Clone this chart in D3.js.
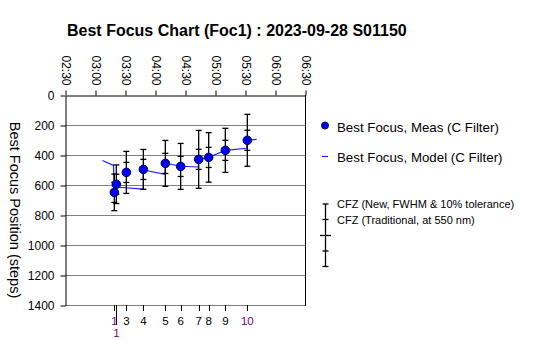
<!DOCTYPE html>
<html>
<head>
<meta charset="utf-8">
<script src="https://cdn.jsdelivr.net/npm/d3@7"></script>
<style>
  html, body { margin: 0; padding: 0; background: #ffffff; }
  svg { display: block; font-family: Arial, "Liberation Sans", sans-serif; }
</style>
</head>
<body>
<svg id="chart" width="535" height="340"></svg>
<script>
// Measured best-focus runs (time of day, run number, focuser steps)
const measTimes  = ["03:19:20", "03:21:20", "03:31:20", "03:48:20", "04:10:20",
                    "04:25:40", "04:43:40", "04:53:40", "05:10:20", "05:32:20"];
const runLabels  = ["1", "1", "3", "4", "5", "6", "7", "8", "9", "10"];
const bestFocus  = [649, 595, 516, 496, 456, 476, 429, 416, 369, 302];
// Half-widths of the critical focus zone, in steps
const cfzNew     = [122, 129, 140, 133, 153, 153, 193, 165, 147, 173];
const cfzTrad    = [67, 67, 67, 67, 67, 67, 67, 67, 67, 67];

// Temperature model of best focus (resets at each measurement)
const modelTimes = ["03:07:20", "03:18:30", "03:19:20", "03:21:20", "03:23:20", "03:48:20",
                    "03:48:20", "04:10:00", "04:10:20", "04:25:40", "04:43:20", "04:43:40",
                    "04:53:40", "05:10:20", "05:31:40", "05:32:20", "05:41:40"];
const modelFocus = [437, 470, 649, 595, 615, 627, 500, 529, 455, 475, 480, 429,
                    415, 369, 355, 302, 295];

// Axis ticks
const timeTicks  = ["02:30", "03:00", "03:30", "04:00", "04:30", "05:00", "05:30", "06:00", "06:30"];
const stepTicks  = [0, 200, 400, 600, 800, 1000, 1200, 1400];

const titleText  = "Best Focus Chart (Foc1) : 2023-09-28 S01150";
const yTitle     = "Best Focus Position (steps)";
const legendMeas = "Best Focus, Meas (C Filter)";
const legendModel = "Best Focus, Model (C Filter)";
const legendCfzNew = "CFZ (New, FWHM & 10% tolerance)";
const legendCfzTrad = "CFZ (Traditional, at 550 nm)";

const day = "2023-09-28 ";
const parseT = d3.timeParse("%Y-%m-%d %H:%M:%S");
const parseHM = d3.timeParse("%Y-%m-%d %H:%M");
const tMeas = measTimes.map(t => parseT(day + t));
const tModel = modelTimes.map(t => parseT(day + t));
const tTicks = timeTicks.map(t => parseHM(day + t));

const plot = { left: 65, right: 305, top: 95, bottom: 305 };

const x = d3.scaleTime()
  .domain([tTicks[0], tTicks[tTicks.length - 1]])
  .range([plot.left, plot.right]);
const y = d3.scaleLinear()
  .domain([0, 1400])
  .range([plot.top, plot.bottom]);

const svg = d3.select("#chart");

// Title
svg.append("text")
  .attr("x", 67).attr("y", 36)
  .attr("font-size", 16).attr("font-weight", "bold")
  .attr("fill", "#000")
  .text(titleText);

// Horizontal gridlines
svg.append("g").selectAll("line")
  .data(stepTicks.filter(v => v > 0 && v < 1400))
  .join("line")
  .attr("x1", plot.left).attr("x2", plot.right)
  .attr("y1", d => y(d) + 0.5).attr("y2", d => y(d) + 0.5)
  .attr("stroke", "#808080").attr("stroke-width", 1);

// Frame: bottom (grey) and right (black)
svg.append("line")
  .attr("x1", plot.left).attr("x2", plot.right)
  .attr("y1", plot.bottom + 0.5).attr("y2", plot.bottom + 0.5)
  .attr("stroke", "#808080");
svg.append("line")
  .attr("x1", plot.right + 0.5).attr("x2", plot.right + 0.5)
  .attr("y1", plot.top).attr("y2", plot.bottom + 1)
  .attr("stroke", "#000");

// Top time axis
const topAxis = svg.append("g")
  .attr("transform", `translate(0.5,${plot.top + 0.5})`)
  .call(d3.axisTop(x).tickValues(tTicks).tickFormat(d3.timeFormat("%H:%M"))
    .tickSize(5).tickSizeOuter(0));
topAxis.select(".domain").attr("stroke", "#000");
topAxis.selectAll(".tick line").attr("stroke", "#000");
topAxis.selectAll(".tick text")
  .attr("font-size", 12).attr("font-family", "Arial, 'Liberation Sans', sans-serif")
  .attr("fill", "#000")
  .attr("text-anchor", "end")
  .attr("transform", "rotate(90)")
  .attr("x", -10).attr("y", 0).attr("dy", "0.35em");

// Left step axis
const leftAxis = svg.append("g")
  .attr("transform", `translate(${plot.left + 0.5},0.5)`)
  .call(d3.axisLeft(y).tickValues(stepTicks).tickFormat(d3.format("d"))
    .tickSize(5).tickPadding(6).tickSizeOuter(0));
leftAxis.select(".domain").attr("stroke", "#000");
leftAxis.selectAll(".tick line").attr("stroke", "#000");
leftAxis.selectAll(".tick text")
  .attr("font-size", 12).attr("font-family", "Arial, 'Liberation Sans', sans-serif")
  .attr("fill", "#000");

// Y axis title
svg.append("text")
  .attr("transform", "translate(15,210) rotate(90)")
  .attr("text-anchor", "middle").attr("dy", "0.35em")
  .attr("font-size", 14.5).attr("fill", "#000")
  .text(yTitle);

// Bottom run-number ticks; runs too close to the previous one drop to a second row
const runRows = tMeas.map((t, i) => (i > 0 && x(t) - x(tMeas[i - 1]) < 6) ? 1 : 0);
const bottom = svg.append("g");
bottom.selectAll("line")
  .data(tMeas)
  .join("line")
  .attr("x1", d => Math.round(x(d)) + 0.5).attr("x2", d => Math.round(x(d)) + 0.5)
  .attr("y1", plot.bottom)
  .attr("y2", (d, i) => plot.bottom + (runRows[i] ? 20 : 6))
  .attr("stroke", "#000");
bottom.selectAll("text")
  .data(tMeas)
  .join("text")
  .attr("x", d => x(d))
  .attr("y", (d, i) => runRows[i] ? 333 : 320.5)
  .attr("dy", "0.35em")
  .attr("text-anchor", "middle")
  .attr("font-size", 11.5)
  .attr("fill", (d, i) => (runLabels[i] === "1" || runLabels[i] === "10") ? "#800080" : "#000")
  .text((d, i) => runLabels[i]);

// Model curve
const modelLine = d3.line()
  .x((d, i) => x(tModel[i]))
  .y(d => y(d));
svg.append("path")
  .datum(modelFocus)
  .attr("d", modelLine)
  .attr("fill", "none")
  .attr("stroke", "#1e1eff")
  .attr("stroke-width", 1.2);

// Error bars (outer: new CFZ, inner ticks: traditional CFZ)
const capHalf = 3;
const bars = svg.append("g").attr("stroke", "#000").attr("stroke-width", 1.3);
bestFocus.forEach((v, i) => {
  const cx = x(tMeas[i]);
  const g = bars.append("g");
  g.append("line")
    .attr("x1", cx).attr("x2", cx)
    .attr("y1", y(v - cfzNew[i])).attr("y2", y(v + cfzNew[i]));
  [v - cfzNew[i], v + cfzNew[i], v - cfzTrad[i], v + cfzTrad[i]].forEach(w => {
    g.append("line")
      .attr("x1", cx - capHalf).attr("x2", cx + capHalf)
      .attr("y1", y(w)).attr("y2", y(w));
  });
});

// Measured points
svg.append("g").selectAll("circle")
  .data(bestFocus)
  .join("circle")
  .attr("cx", (d, i) => x(tMeas[i]))
  .attr("cy", d => y(d))
  .attr("r", 4.3)
  .attr("fill", "#0000f0")
  .attr("stroke", "#00005a")
  .attr("stroke-width", 1);

// Legend
const lg = svg.append("g");
lg.append("circle").attr("cx", 325).attr("cy", 125.5).attr("r", 3.5)
  .attr("fill", "#0000f0").attr("stroke", "#00005a");
lg.append("text").attr("x", 337).attr("y", 127.5).attr("dy", "0.35em")
  .attr("font-size", 13.3).attr("fill", "#000").text(legendMeas);
lg.append("line").attr("x1", 322).attr("x2", 328).attr("y1", 156.5).attr("y2", 156.5)
  .attr("stroke", "#1e1eff").attr("stroke-width", 1.2);
lg.append("text").attr("x", 337).attr("y", 157.5).attr("dy", "0.35em")
  .attr("font-size", 13.3).attr("fill", "#000").text(legendModel);

const lgx = 325.5;
lg.append("line").attr("x1", lgx).attr("x2", lgx).attr("y1", 204).attr("y2", 267)
  .attr("stroke", "#000").attr("stroke-width", 1.3);
[[204, 3], [219.5, 3], [235.5, 5.5], [251, 3], [266.5, 3]].forEach(([ly, h]) => {
  lg.append("line").attr("x1", lgx - h).attr("x2", lgx + h).attr("y1", ly).attr("y2", ly)
    .attr("stroke", "#000").attr("stroke-width", 1.3);
});
lg.append("text").attr("x", 337).attr("y", 204.5).attr("dy", "0.35em")
  .attr("font-size", 11).attr("fill", "#000").text(legendCfzNew);
lg.append("text").attr("x", 337).attr("y", 220).attr("dy", "0.35em")
  .attr("font-size", 11).attr("fill", "#000").text(legendCfzTrad);
</script>
</body>
</html>
